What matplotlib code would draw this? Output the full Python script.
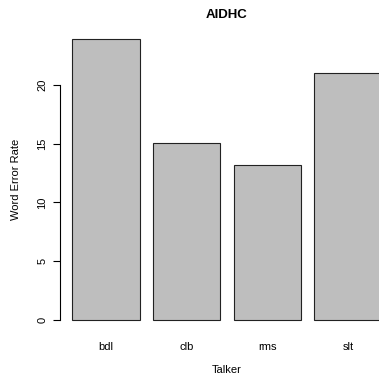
import numpy as np
import matplotlib
matplotlib.use("Agg")
import matplotlib.pyplot as plt

plt.rcParams["font.family"] = ["Liberation Sans", "DejaVu Sans"]

# data
talkers = ["bdl", "clb", "rms", "slt"]
wer = [23.9, 15.05, 13.2, 21.05]
yticks = [0, 5, 10, 15, 20]

# R-style barplot layout: width 1, space 0.2
pos = 0.2 + np.arange(len(talkers)) * 1.2 + 0.5
x_lo, x_hi = 0.2, pos[-1] + 0.5
y_hi = max(wer)

fig = plt.figure(figsize=(3.79, 3.76), dpi=100)
# plot region runs past the right edge of the image (cropped like the original)
ax = fig.add_axes([60 / 379, 45 / 376, 334 / 379, 303 / 376])

ax.bar(pos, wer, width=1.0, color="#bebebe", edgecolor="#222222", linewidth=0.8)

pad_x = 0.04 * (x_hi - x_lo)
ax.set_xlim(x_lo - pad_x, x_hi + pad_x)
ax.set_ylim(-0.04 * y_hi, 1.04 * y_hi)

for s in ["top", "right", "bottom"]:
    ax.spines[s].set_visible(False)
ax.spines["left"].set_bounds(0, 20)
ax.spines["left"].set_linewidth(0.8)

ax.set_yticks(yticks)
ax.set_yticklabels([str(t) for t in yticks], rotation=90, va="center", fontsize=8)
ax.tick_params(axis="y", length=5, width=0.8, pad=4)

ax.set_xticks(pos)
ax.set_xticklabels(talkers, fontsize=8)
ax.tick_params(axis="x", length=0, pad=8)

ax.set_ylabel("Word Error Rate", fontsize=8, labelpad=12)
fig.text(227 / 379, 1 - 370 / 376, "Talker", ha="center", va="center", fontsize=8)
fig.text(227 / 379, 1 - 15 / 376, "AIDHC", ha="center", va="center",
         fontsize=9.5, fontweight="bold")

fig.savefig("out.png", dpi=100)
